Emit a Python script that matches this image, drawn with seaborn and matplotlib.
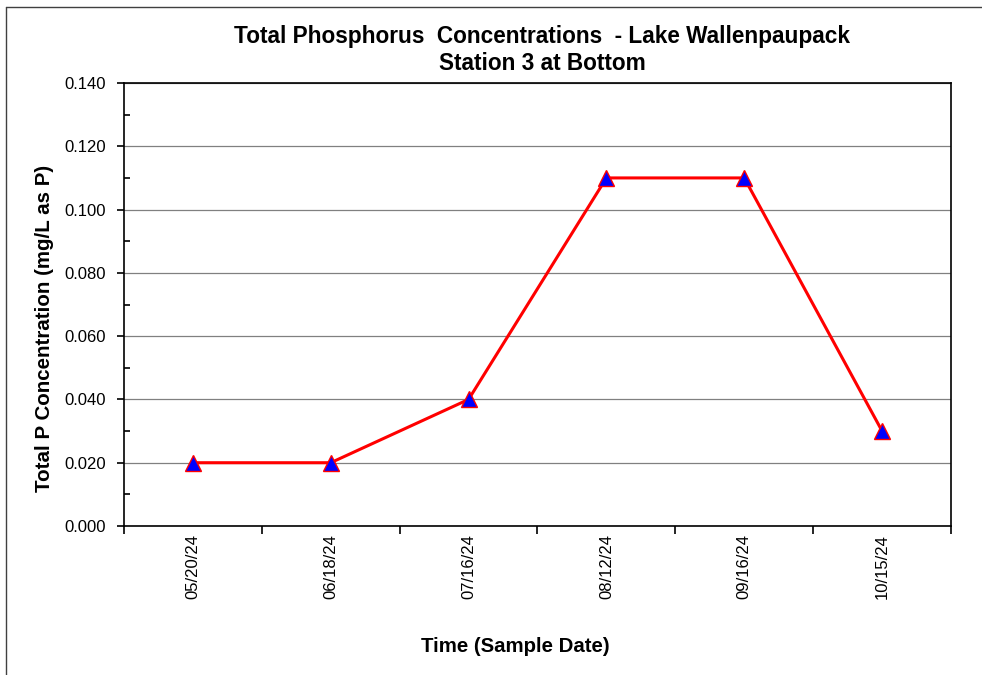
import numpy as np
import pandas as pd
import seaborn as sns
import matplotlib
matplotlib.use("Agg")
import matplotlib.pyplot as plt
from matplotlib.ticker import MultipleLocator, FixedLocator, FormatStrFormatter

dates = ["05/20/24", "06/18/24", "07/16/24", "08/12/24", "09/16/24", "10/15/24"]
total_p = [0.020, 0.020, 0.040, 0.110, 0.110, 0.030]

sns.set_theme(style="white")
plt.rcParams["font.family"] = ["Liberation Sans", "DejaVu Sans"]
plt.rcParams["text.color"] = "black"
plt.rcParams["xtick.color"] = "black"
plt.rcParams["ytick.color"] = "black"
plt.rcParams["axes.labelcolor"] = "black"

df = pd.DataFrame({"date": dates, "tp": total_p, "pos": np.arange(len(dates))})

fig = plt.figure(figsize=(9.82, 6.75), dpi=100)
ax = fig.add_axes([124 / 982, 1 - 526 / 675, (951 - 124) / 982, (526 - 83) / 675])

sns.lineplot(data=df, x="pos", y="tp", ax=ax, color="#ff0000", linewidth=2.2,
             marker="^", markersize=11, markerfacecolor="#0000ff",
             markeredgecolor="#ff0000", markeredgewidth=1.0, zorder=3)

ax.set_xlim(-0.5, len(dates) - 0.5)
ax.set_ylim(0, 0.14)
ax.yaxis.set_major_locator(MultipleLocator(0.02))
ax.yaxis.set_minor_locator(MultipleLocator(0.01))
ax.yaxis.set_major_formatter(FormatStrFormatter("%.3f"))
ax.grid(axis="y", which="major", color="#808080", linewidth=0.9)
ax.set_axisbelow(True)

# ticks at category boundaries, labels at centres
ax.xaxis.set_major_locator(FixedLocator(np.arange(len(dates) + 1) - 0.5))
ax.set_xticklabels([])
ax.set_xticks(np.arange(len(dates)), labels=dates, minor=True)
ax.tick_params(axis="x", which="major", direction="out", length=6, width=1.2, color="black")
ax.tick_params(axis="x", which="minor", length=0, labelsize=12, labelrotation=90, pad=6,
               labelcolor="black")
ax.tick_params(axis="y", which="major", direction="out", length=5, width=1.2, color="black",
               labelsize=12, pad=8, labelcolor="black")
ax.tick_params(axis="y", which="minor", direction="in", length=4, width=1.2, color="black")
ax.tick_params(left=True, bottom=True)
ax.tick_params(axis="y", which="minor", left=True)

for side in ["left", "right", "top", "bottom"]:
    ax.spines[side].set_visible(True)
    ax.spines[side].set_color("black")
    ax.spines[side].set_linewidth(1.2)

ax.set_xlabel("")
ax.set_ylabel("")
fig.text(45 / 982, 1 - 328 / 675, "Total P Concentration (mg/L as P)", rotation=90,
         ha="center", va="center", fontsize=14.8, fontweight="bold", color="black")
fig.text(515 / 982, 1 - 646 / 675, "Time (Sample Date)", ha="center", va="center",
         fontsize=14.7, fontweight="bold", color="black")
fig.text(542 / 982, 1 - 36 / 675, "Total Phosphorus  Concentrations  - Lake Wallenpaupack",
         ha="center", va="center", fontsize=16.3, fontweight="bold", color="black")
fig.text(542 / 982, 1 - 63 / 675, "Station 3 at Bottom",
         ha="center", va="center", fontsize=16.3, fontweight="bold", color="black")

# chart frame (left and top edges visible)
fig.add_artist(plt.Line2D([6 / 982, 6 / 982], [0, 1 - 7 / 675], transform=fig.transFigure,
                          color="#404040", linewidth=1.0))
fig.add_artist(plt.Line2D([6 / 982, 1], [1 - 7 / 675, 1 - 7 / 675], transform=fig.transFigure,
                          color="#404040", linewidth=1.0))

fig.savefig("out.png", dpi=100)
